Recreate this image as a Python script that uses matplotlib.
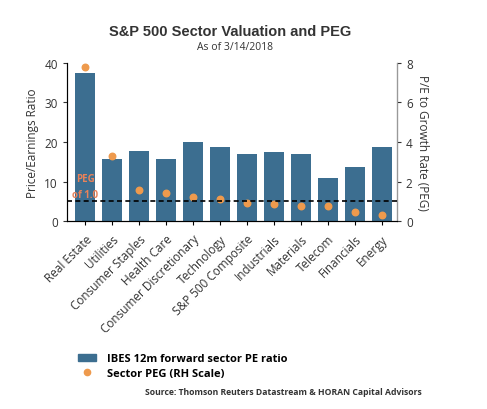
import matplotlib.pyplot as plt
import numpy as np
from matplotlib.patches import Patch
from matplotlib.lines import Line2D

plt.rcParams['font.family'] = ['Open Sans', 'DejaVu Sans']

# dados
setores = ['Real Estate', 'Utilities', 'Consumer Staples', 'Health Care',
           'Consumer Discretionary', 'Technology', 'S&P 500 Composite',
           'Industrials', 'Materials', 'Telecom', 'Financials', 'Energy']
pe_ratio = [37.5, 15.7, 17.7, 15.7, 20.0, 18.7, 16.9, 17.4, 16.9, 10.9, 13.7, 18.7]
peg = [7.8, 3.28, 1.55, 1.42, 1.2, 1.11, 0.9, 0.86, 0.78, 0.78, 0.47, 0.32]
peg_ref = 1.0

cor_barra = '#3c6e90'
cor_ponto = '#ee9a4d'
cor_peg_txt = '#e8825a'
cor_texto = '#333333'

fig = plt.figure(figsize=(4.87, 4.10), dpi=100)
ax = fig.add_axes([0.1376, 0.4585, 0.6774, 0.3855])
ax2 = ax.twinx()

x = np.arange(len(setores))
ax.bar(x, pe_ratio, width=0.74, color=cor_barra, zorder=2)
ax.set_ylim(0, 40)
ax.set_xlim(-0.67, len(setores) - 0.43)
ax.set_yticks([0, 10, 20, 30, 40])
ax.set_xticks(x)
ax.set_xticklabels(setores, rotation=45, ha='right', rotation_mode='anchor',
                   fontsize=8.5, color=cor_texto)
ax.tick_params(axis='y', labelsize=8.5, colors=cor_texto, length=3)
ax.tick_params(axis='x', length=3, pad=5)
ax.set_ylabel('Price/Earnings Ratio', fontsize=8.5, color=cor_texto)

ax2.scatter(x, peg, s=22, color=cor_ponto, zorder=3)
ax2.axhline(peg_ref, color='black', linestyle=(0, (3, 2)), linewidth=1.2, zorder=4)
ax2.set_ylim(0, 8)
ax2.set_yticks([0, 2, 4, 6, 8])
ax2.tick_params(axis='y', labelsize=8.5, colors=cor_texto, length=3)
ax2.set_ylabel('P/E to Growth Rate (PEG)', fontsize=8.5,
               color=cor_texto, rotation=270, labelpad=12)
ax2.text(0, 1.75, 'PEG\nof 1.0', color=cor_peg_txt, fontsize=7, fontweight='bold',
         ha='center', va='center', linespacing=1.6, zorder=5)

for a in (ax, ax2):
    a.spines['top'].set_visible(False)
ax2.spines['right'].set_color('#999999')
ax.spines['left'].set_color('#333333')
ax.spines['bottom'].set_color('#333333')

fig.text(0.472, 0.922, 'S&P 500 Sector Valuation and PEG', ha='center', va='center',
         fontsize=10.5, fontweight='bold', color=cor_texto,
         family=['Liberation Sans', 'DejaVu Sans'])
fig.text(0.483, 0.883, 'As of 3/14/2018', ha='center', va='center',
         fontsize=7.5, color=cor_texto)

handles = [Patch(color=cor_barra),
           Line2D([], [], marker='o', linestyle='none', color=cor_ponto, markersize=4.5)]
rotulos = ['IBES 12m forward sector PE ratio', 'Sector PEG (RH Scale)']
fig.legend(handles, rotulos, loc='upper left', bbox_to_anchor=(0.14, 0.16),
           frameon=False, prop={'weight': 'bold', 'size': 8},
           handlelength=1.6, handletextpad=1.0, labelspacing=0.3)
fig.text(0.298, 0.043, 'Source: Thomson Reuters Datastream & HORAN Capital Advisors',
         fontsize=6.2, fontweight='bold', color=cor_texto, va='center')

fig.savefig('out.png', dpi=100)
